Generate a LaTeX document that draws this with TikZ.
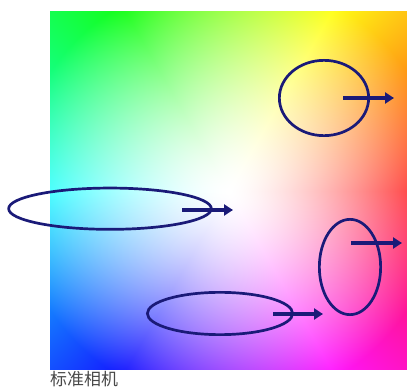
\documentclass[tikz,border=0pt]{standalone}
\usepackage{fontspec}
\newfontfamily\cjkfont{Noto Sans CJK SC}
\usetikzlibrary{shapes.geometric,arrows.meta}
\definecolor{navy}{RGB}{26,26,120}
\definecolor{labelgray}{RGB}{72,72,72}
\pgfdeclarefunctionalshading{huefield}{\pgfpointorigin}{\pgfpoint{100bp}{100bp}}{}{
  50 sub exch 50 sub 0.0001 add
  2 copy dup mul exch dup mul add sqrt
  30 div dup 1 gt {pop 1} if
  dup sqrt mul 0.92 mul
  3 1 roll atan 60 div
  dup 5 add dup 6 div floor 6 mul sub
  dup 4 exch sub 2 copy gt {exch} if pop
  dup 1 gt {pop 1} if dup 0 lt {pop 0} if
  2 index mul 1 exch sub
  1 index 3 add dup 6 div floor 6 mul sub
  dup 4 exch sub 2 copy gt {exch} if pop
  dup 1 gt {pop 1} if dup 0 lt {pop 0} if
  3 index mul 1 exch sub
  2 index 1 add dup 6 div floor 6 mul sub
  dup 4 exch sub 2 copy gt {exch} if pop
  dup 1 gt {pop 1} if dup 0 lt {pop 0} if
  4 index mul 1 exch sub
  5 -2 roll pop pop
}
\begin{document}
\begin{tikzpicture}[x=1bp,y=1bp,
  ring/.style={draw=navy, line width=2.7bp, ellipse, inner sep=0pt, outer sep=0pt},
  push/.style={draw=navy, line width=4bp, -{Triangle[length=9bp,width=11bp]}},
  caption/.style={font=\cjkfont\fontsize{17}{17}\selectfont, text=labelgray, inner sep=0pt, anchor=base west}]
\useasboundingbox (0,0) rectangle (407,387);
\shade[shading=huefield] (50,17) rectangle (407,375);
\node[ring, minimum width=89.3bp, minimum height=75.3bp] (e1) at (324,289) {};
\node[ring, minimum width=202.7bp, minimum height=41.3bp] (e2) at (110,178.3) {};
\node[ring, minimum width=61.3bp, minimum height=95.3bp] (e3) at (350,120) {};
\node[ring, minimum width=145.3bp, minimum height=42.3bp] (e4) at (220,73.5) {};
\coordinate (s1) at (343,289); \coordinate (t1) at (394,289);
\coordinate (s2) at (182,177); \coordinate (t2) at (233,177);
\coordinate (s3) at (351,144); \coordinate (t3) at (402,144);
\coordinate (s4) at (273,73); \coordinate (t4) at (323,73);
\draw[push] (s1) -- (t1);
\draw[push] (s2) -- (t2);
\draw[push] (s3) -- (t3);
\draw[push] (s4) -- (t4);
\node[caption] (lbl) at (50,1.5) {标准相机};
\end{tikzpicture}
\end{document}
